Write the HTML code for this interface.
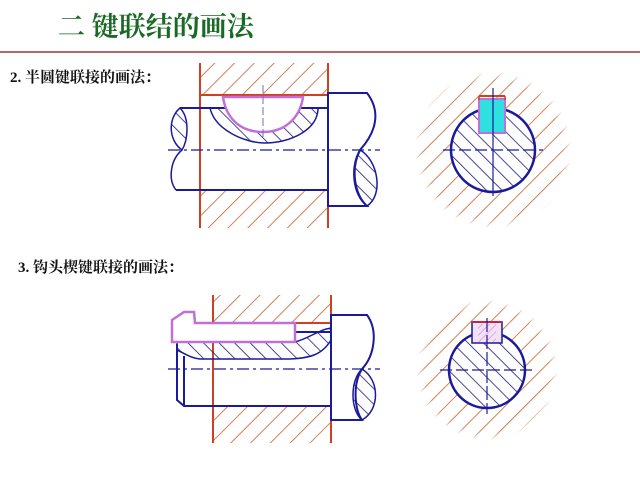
<!DOCTYPE html>
<html><head><meta charset="utf-8"><style>
body{margin:0;background:#fff;}
svg{display:block;}
text{font-family:"Liberation Serif","Noto Serif CJK SC",serif;}
</style></head><body>
<svg width="640" height="480" viewBox="0 0 640 480" xmlns="http://www.w3.org/2000/svg">
<defs>
<pattern id="hr" width="14" height="14" patternUnits="userSpaceOnUse" patternTransform="rotate(45)">
<line x1="0" y1="0" x2="0" y2="14" stroke="#c8602a" stroke-width="1.6"/></pattern>
<pattern id="hb" width="11" height="11" patternUnits="userSpaceOnUse" patternTransform="rotate(-45)">
<line x1="0" y1="0" x2="0" y2="11" stroke="#1a1a80" stroke-width="1.6"/></pattern>
<pattern id="hp" width="5" height="5" patternUnits="userSpaceOnUse" patternTransform="rotate(45)">
<line x1="0" y1="0" x2="0" y2="5" stroke="#c080d0" stroke-width="1"/></pattern>
<radialGradient id="fade1"><stop offset="0.88" stop-color="#fff" stop-opacity="0"/><stop offset="1" stop-color="#fff" stop-opacity="1"/></radialGradient>
</defs>
<rect width="640" height="480" fill="#fff"/>
<text x="58" y="36" font-size="27" font-weight="bold" fill="#1a6a26" font-family="Liberation Sans,Noto Sans CJK SC,sans-serif">二  键联结的画法</text>
<line x1="0" y1="52" x2="640" y2="52" stroke="#a83030" stroke-width="1.5"/>
<text x="10" y="82" font-size="15" font-weight="bold" fill="#111">2. 半圆键联接的画法：</text>
<text x="18" y="272" font-size="15" font-weight="bold" fill="#111">3.  钩头楔键联接的画法：</text>

<!-- Diagram 1 -->
<rect x="200" y="63" width="128" height="32" fill="url(#hr)"/>
<rect x="200" y="190" width="128" height="38" fill="url(#hr)"/>
<line x1="200" y1="63" x2="200" y2="228" stroke="#d04020" stroke-width="2"/>
<line x1="328" y1="63" x2="328" y2="228" stroke="#d04020" stroke-width="2"/>
<line x1="200" y1="95" x2="328" y2="95" stroke="#d04020" stroke-width="2"/>
<path d="M180,108 C168,118 168,140 182,150 C188,140 190,118 180,108 Z" fill="url(#hb)" stroke="#1a1a9a" stroke-width="1.5"/>
<path d="M182,150 C170,160 168,180 176,190" fill="none" stroke="#1a1a9a" stroke-width="1.5"/>
<line x1="180" y1="108" x2="328" y2="108" stroke="#1a1a9a" stroke-width="2"/>
<line x1="176" y1="190" x2="328" y2="190" stroke="#1a1a9a" stroke-width="2"/>
<path d="M210,108 C215,130 245,143 265,143 C290,143 318,130 318,108 Z" fill="url(#hb)" stroke="#1a1a9a" stroke-width="1.5"/>
<path d="M223,97 L303,97 C300,118 285,132 263,132 C240,132 226,118 223,97 Z" fill="#fff" stroke="#c070d8" stroke-width="2.5"/>
<line x1="263" y1="85" x2="263" y2="140" stroke="#7070b0" stroke-width="1" stroke-dasharray="8,3"/>
<path d="M328,93 L367,93 C380,110 378,130 360,150 C350,170 355,195 367,206 L328,206 Z" fill="#fff" stroke="#1a1a9a" stroke-width="2"/>
<path d="M360,150 C378,160 384,195 367,206 C352,195 350,165 360,150 Z" fill="url(#hb)" stroke="#1a1a9a" stroke-width="1.5"/>
<line x1="168" y1="150" x2="380" y2="150" stroke="#1a1a9a" stroke-width="1.2" stroke-dasharray="12,4,3,4"/>

<!-- Circle 1 -->
<circle cx="493" cy="150" r="78" fill="url(#hr)"/>
<circle cx="493" cy="150" r="79" fill="url(#fade1)"/>
<circle cx="493" cy="150" r="42" fill="#fff"/>
<circle cx="493" cy="150" r="42" fill="url(#hb)" stroke="#1a1a9a" stroke-width="2.5"/>
<rect x="479" y="99" width="26" height="34" fill="#30e0e0" stroke="#c070d8" stroke-width="2"/>
<line x1="479" y1="96" x2="505" y2="96" stroke="#d04020" stroke-width="2"/>
<line x1="479" y1="96" x2="479" y2="100" stroke="#d04020" stroke-width="1.5"/>
<line x1="505" y1="96" x2="505" y2="100" stroke="#d04020" stroke-width="1.5"/>
<line x1="443" y1="150" x2="543" y2="150" stroke="#1a1a9a" stroke-width="1.2" stroke-dasharray="12,4"/>
<line x1="493" y1="88" x2="493" y2="196" stroke="#1a1a9a" stroke-width="1.2"/>

<!-- Diagram 2 -->
<rect x="213" y="295" width="118" height="28" fill="url(#hr)"/>
<rect x="213" y="406" width="118" height="37" fill="url(#hr)"/>
<line x1="213" y1="295" x2="213" y2="443" stroke="#d04020" stroke-width="2"/>
<line x1="331" y1="295" x2="331" y2="443" stroke="#d04020" stroke-width="2"/>
<line x1="295" y1="323" x2="331" y2="323" stroke="#d04020" stroke-width="2"/>
<path d="M177,342 L295,342 C310,338 318,330 331,328 L331,340 C322,355 310,358 290,359 L200,359 C190,358 182,352 177,350 Z" fill="url(#hb)" stroke="#1a1a9a" stroke-width="1.5"/>
<line x1="295" y1="332" x2="331" y2="332" stroke="#1a1a9a" stroke-width="2"/>
<path d="M172,342 L172,320 L184,312 L194,312 L195,323 L295,323 L295,342 Z" fill="#fff" stroke="#c070d8" stroke-width="2.5"/>
<path d="M177,344 L177,400 L184,406 L331,406" fill="none" stroke="#1a1a9a" stroke-width="2"/>
<line x1="184" y1="356" x2="184" y2="406" stroke="#1a1a9a" stroke-width="2"/>
<path d="M331,315 L367,315 C378,330 375,355 362,369 C352,385 355,410 362,420 L331,420 Z" fill="#fff" stroke="#1a1a9a" stroke-width="2"/>
<path d="M362,369 C380,380 380,410 362,420 C350,410 350,380 362,369 Z" fill="url(#hb)" stroke="#1a1a9a" stroke-width="1.5"/>
<line x1="168" y1="369" x2="380" y2="369" stroke="#1a1a9a" stroke-width="1.2" stroke-dasharray="12,4,3,4"/>

<!-- Circle 2 -->
<circle cx="487" cy="370" r="70" fill="url(#hr)"/>
<circle cx="487" cy="370" r="71" fill="url(#fade1)"/>
<circle cx="487" cy="370" r="38" fill="#fff"/>
<circle cx="487" cy="370" r="38" fill="url(#hb)" stroke="#1a1a9a" stroke-width="2.5"/>
<rect x="472" y="322" width="30" height="21" fill="#f4e0f8" stroke="#1a1a9a" stroke-width="1.5"/>
<rect x="478" y="324" width="18" height="18" fill="url(#hp)"/>
<line x1="472" y1="322" x2="502" y2="322" stroke="#d02040" stroke-width="2"/>
<line x1="440" y1="370" x2="532" y2="370" stroke="#1a1a9a" stroke-width="1.2" stroke-dasharray="12,4"/>
<line x1="487" y1="318" x2="487" y2="414" stroke="#1a1a9a" stroke-width="1.2" stroke-dasharray="14,3"/>
</svg>
</body></html>
